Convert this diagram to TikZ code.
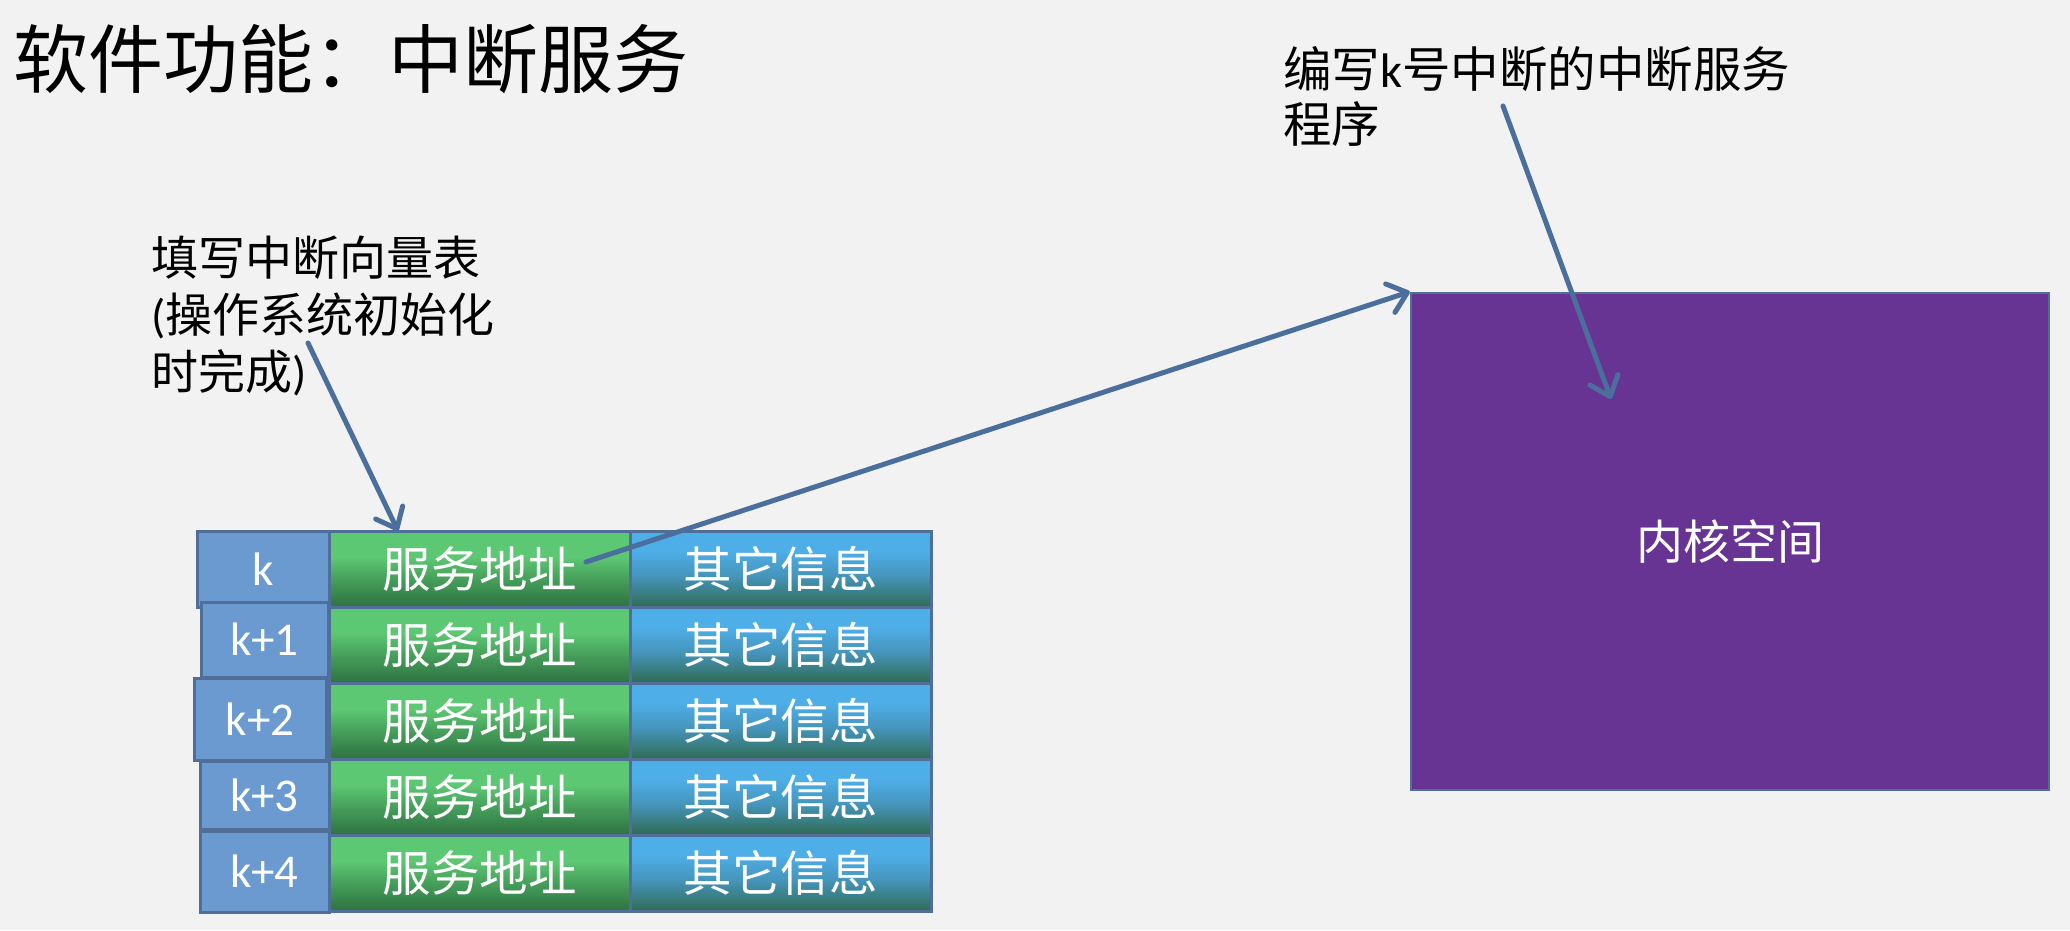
\documentclass[tikz,border=0pt]{standalone}
\usepackage{fontspec}
\setmainfont{Carlito}
\newfontfamily\cjk{Noto Sans CJK SC}
\usetikzlibrary{arrows.meta}
\definecolor{bg}{HTML}{F2F2F2}
\definecolor{conn}{HTML}{4A6F9C}
\definecolor{cellborder}{HTML}{4F6F98}
\definecolor{keyfill}{HTML}{6A9AD0}
\definecolor{purplefill}{HTML}{673494}
\definecolor{glight}{HTML}{5DC874}
\definecolor{gmid}{HTML}{48A35C}
\definecolor{gdark}{HTML}{2E7143}
\definecolor{blight}{HTML}{4EAEE8}
\definecolor{bmid}{HTML}{4594BA}
\definecolor{bdark}{HTML}{2F6B52}
\pgfdeclareverticalshading{greencell}{100bp}{color(0bp)=(gdark); color(25bp)=(gdark); color(45bp)=(gmid); color(58bp)=(glight); color(75bp)=(glight); color(100bp)=(glight)}
\pgfdeclareverticalshading{bluecell}{100bp}{color(0bp)=(bdark); color(25bp)=(bdark); color(45bp)=(bmid); color(62bp)=(blight); color(75bp)=(blight); color(100bp)=(blight)}
\tikzset{
  cell/.style={draw=cellborder, line width=3pt, minimum width=301pt, minimum height=76pt, inner sep=0pt, text=white, font=\cjk\fontsize{48.5}{52}\selectfont},
  gcell/.style={cell, shading=greencell},
  bcell/.style={cell, shading=bluecell},
  keycell/.style={draw=cellborder, line width=3pt, fill=keyfill, inner sep=0pt, text=white, font=\fontsize{47}{50}\selectfont},
  note/.style={inner sep=0pt, anchor=north west, align=left, text=black},
  conn/.style={draw=conn, line width=5pt, line cap=round, -{Straight Barb[length=18pt,width=30pt,round]}},
}
\begin{document}
\begin{tikzpicture}[x=1pt,y=-1pt]
\useasboundingbox[fill=bg] (0,0) rectangle (2070,930);

% title
\node[inner sep=0pt, anchor=west, font=\cjk\fontsize{75}{80}\selectfont] (title) at (13,59) {软件功能：中断服务};

% table: green and blue columns
\foreach \i/\yc in {1/569,2/645,3/721,4/797,5/873}{
  \node[gcell] (g\i) at (479.5,\yc) {服务地址};
  \node[bcell] (b\i) at (780.5,\yc) {其它信息};
}

% key cells (slightly misaligned as in the reference)
\node[keycell, minimum width=132pt, minimum height=76pt] (k0) at (263,569.5) {k};
\node[keycell, minimum width=127pt, minimum height=75pt] (k1) at (264.5,639.5) {k+1};
\node[keycell, minimum width=132pt, minimum height=82pt] (k2) at (260,719) {k+2};
\node[keycell, minimum width=129pt, minimum height=68pt] (k3) at (264.5,795) {k+3};
\node[keycell, minimum width=129pt, minimum height=81pt] (k4) at (264.5,871.5) {k+4};

% kernel space box
\node[draw=cellborder, line width=2.5pt, fill=purplefill, minimum width=638pt, minimum height=497pt, inner sep=0pt, text=white, font=\cjk\fontsize{47}{50}\selectfont] (kernel) at (1730,541.5) {内核空间};

% notes
\node[note, font=\fontsize{47}{57}\selectfont] (note1) at (151,236) {{\cjk 填写中断向量表}\\({\cjk 操作系统初始化}\\{\cjk 时完成})};
\node[note, font=\fontsize{48.5}{55}\selectfont] (note2) at (1283,46) {{\cjk 编写}k{\cjk 号中断的中断服务}\\{\cjk 程序}};

% connectors
\coordinate (n1s) at (308,343);
\coordinate (g1t) at (398,531);
\coordinate (g1s) at (586,562);
\coordinate (n2s) at (1503,106);
\coordinate (kin) at (1611,399);
\draw[conn] (n1s) -- (g1t);
\draw[conn] (g1s) -- (kernel.north west);
\draw[conn] (n2s) -- (kin);
\end{tikzpicture}
\end{document}
